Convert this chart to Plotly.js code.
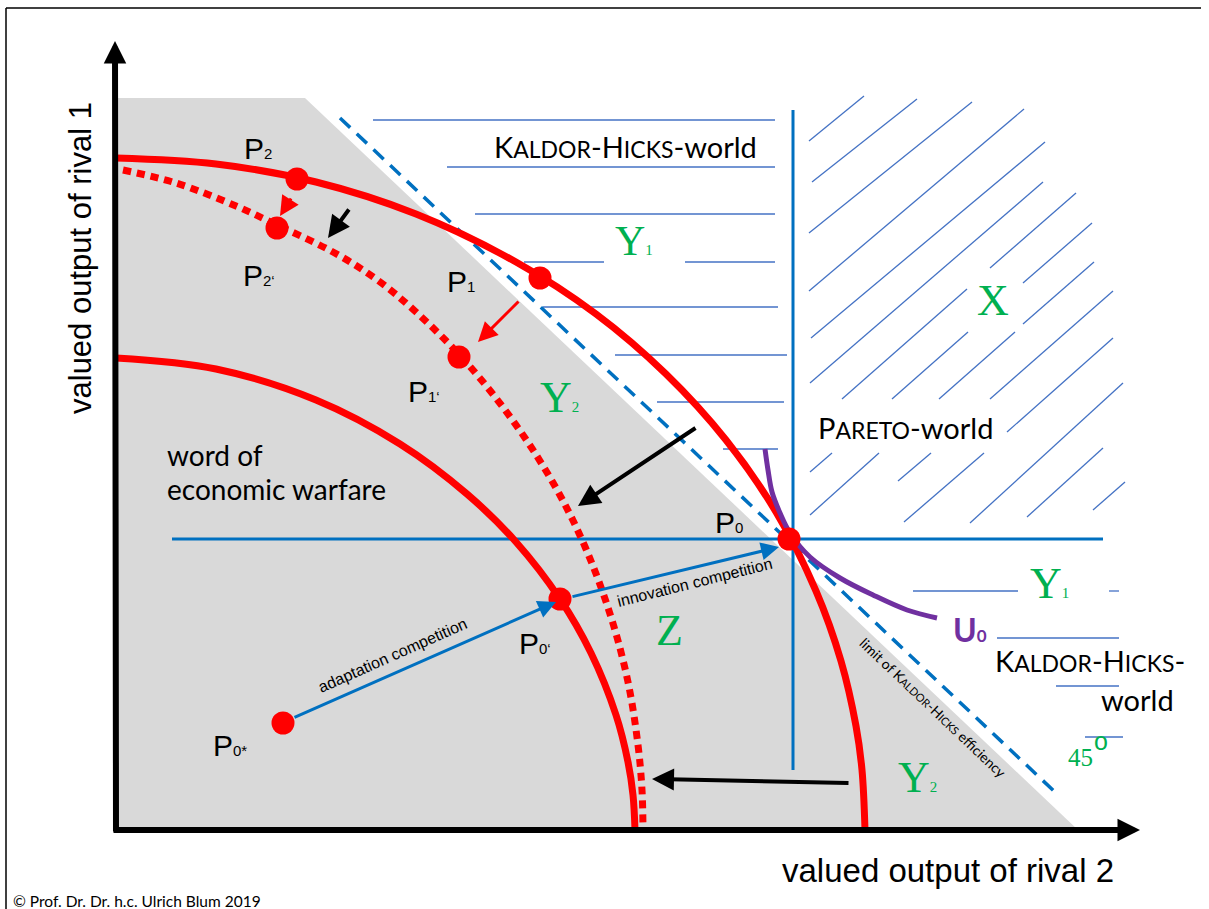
<!DOCTYPE html>
<html><head><meta charset="utf-8">
<script src="https://cdn.plot.ly/plotly-3.0.1.min.js"></script>
<style>html,body{margin:0;padding:0;background:#fff}#chart{width:1209px;height:909px}</style>
</head><body><div id="chart"></div>
<script>
// Coordinates: x = valued output of rival 2, y = valued output of rival 1 (origin at the axes' crossing)
const outerFrontierX = [0, 100, 200, 300, 400, 480, 550, 610, 660, 700, 725, 740, 746, 749];
const outerFrontierY = [672, 666, 648, 616, 568, 516, 456, 390, 318, 239, 169, 104, 60, 0];
const shiftedFrontierX = [7, 60, 120, 161, 217, 260, 300, 350, 400, 440, 470, 495, 512, 522, 526, 527];
const shiftedFrontierY = [660, 647, 624, 605, 578, 551, 518, 468, 405, 342, 281, 213, 148, 85, 40, 0];
const innerFrontierX = [0, 100, 200, 284, 351, 400, 444, 475, 500, 512, 517, 519];
const innerFrontierY = [472, 461, 430, 386, 336, 288, 231, 177, 115, 68, 35, 0];
const indifferenceX = [649, 652, 656, 664, 674, 694, 724, 757, 791, 821];
const indifferenceY = [381, 360, 338, 317, 297, 273, 252, 235, 220, 212];
const limitLineX = [224, 939];
const limitLineY = [712, 38];
const warfareRegionX = [0, 0, 189, 962, 0];
const warfareRegionY = [0, 732, 732, 0, 0];
const paretoHX = [56, 987], paretoHY = [291, 291];
const paretoVX = [677, 677], paretoVY = [60, 720];
// Kaldor-Hicks hatch (horizontal segments)
const khY  = [710, 663, 616, 568, 568, 523, 475, 428, 381, 239, 239, 192, 144, 93];
const khX0 = [257, 331, 359, 408, 569, 427, 499, 541, 607, 797, 993, 881, 940, 969];
const khX1 = [659, 659, 659, 488, 659, 662, 671, 668, 662, 902, 1003, 1003, 1003, 1007];
// Pareto hatch (diagonal segments)
const parX0 = [693, 696, 693, 693, 695, 694, 726, 874, 776, 907, 823, 907, 874, 891, 854, 694, 694, 782, 788, 911, 977];
const parY0 = [689, 648, 597, 539, 492, 447, 431, 562, 431, 547, 431, 506, 431, 398, 307, 358, 315, 349, 308, 313, 320];
const parX1 = [748, 801, 856, 908, 929, 927, 851, 960, 852, 976, 899, 978, 997, 997, 1007, 716, 763, 815, 868, 987, 1009];
const parY1 = [734, 731, 728, 721, 688, 648, 541, 637, 498, 607, 498, 568, 539, 492, 447, 377, 377, 377, 377, 382, 348];
// Points
const pointNames = ['P2', 'P2‘', 'P1', 'P1‘', 'P0', 'P0‘', 'P0*'];
const pointX = [181, 161, 424, 343, 673, 444, 167];
const pointY = [651, 602, 552, 473, 291, 231, 107];
// Arrows: tail -> head
const redArrowTail = [[176, 633], [404, 530]];
const redArrowHead = [[164, 614], [362, 488]];
const blackArrowTail = [[234, 622], [581, 403], [734, 47]];
const blackArrowHead = [[212, 592], [462, 324], [536, 51]];
const adaptationTail = [177, 112], adaptationHead = [440, 228];
const innovationTail = [455, 233], innovationHead = [663, 283];
const axisXEnd = [1024, 0], axisYEnd = [-1, 789];

function segs(x0, y0, x1, y1) {
  const xs = [], ys = [];
  for (let i = 0; i < x0.length; i++) { xs.push(x0[i], x1[i], null); ys.push(y0[i], y1[i], null); }
  return {xs, ys};
}
const kh = segs(khX0, khY, khX1, khY);
const par = segs(parX0, parY0, parX1, parY1);

const RED = '#FF0000', BLUE = '#0070C0', HATCH = '#4472C4', GREEN = '#00B050', PURPLE = '#7030A0';
const traces = [
  {x: warfareRegionX, y: warfareRegionY, mode: 'lines', fill: 'toself', fillcolor: '#D9D9D9', line: {width: 0}, hoverinfo: 'skip'},
  {x: kh.xs, y: kh.ys, mode: 'lines', line: {color: HATCH, width: 1.3}, connectgaps: false},
  {x: par.xs, y: par.ys, mode: 'lines', line: {color: HATCH, width: 1.3}, connectgaps: false},
  {x: paretoHX, y: paretoHY, mode: 'lines', line: {color: BLUE, width: 3}},
  {x: paretoVX, y: paretoVY, mode: 'lines', line: {color: BLUE, width: 3}},
  {x: limitLineX, y: limitLineY, mode: 'lines', line: {color: BLUE, width: 3.5, dash: '14px,9px'}},
  {x: innerFrontierX, y: innerFrontierY, mode: 'lines', line: {color: RED, width: 7, shape: 'spline'}},
  {x: shiftedFrontierX, y: shiftedFrontierY, mode: 'lines', line: {color: RED, width: 7, shape: 'spline', dash: '8px,6px'}},
  {x: outerFrontierX, y: outerFrontierY, mode: 'lines', line: {color: RED, width: 7, shape: 'spline'}},
  {x: indifferenceX, y: indifferenceY, mode: 'lines', line: {color: PURPLE, width: 5, shape: 'spline'}},
  {x: pointX, y: pointY, text: pointNames, mode: 'markers', marker: {color: RED, size: 23}}
];

const X = p => p - 116, Y = p => 830 - p;   // layout helper: picture position -> axis units
const ARIAL = 'Liberation Sans, Arial, sans-serif', CAL = 'Lato, Open Sans, sans-serif', TIMES = 'Liberation Serif, Times New Roman, serif';
const anns = [];
function txt(px, py, text, font, opts) {
  anns.push(Object.assign({x: X(px), y: Y(py), xref: 'x', yref: 'y', text: text, showarrow: false,
    xanchor: 'left', yanchor: 'middle', font: font}, opts || {}));
}
function arrow(t, h, color, width, size, head) {
  anns.push({x: h[0], y: h[1], ax: t[0], ay: t[1], xref: 'x', yref: 'y', axref: 'x', ayref: 'y', text: '',
    showarrow: true, arrowhead: head || 2, arrowsize: size, arrowwidth: width, arrowcolor: color, standoff: 0});
}
// axes
arrow([0, -3], axisYEnd, '#000', 6, 0.75);
arrow([-4, 0], axisXEnd, '#000', 6, 0.75);
redArrowTail.forEach((t, i) => arrow(t, redArrowHead[i], RED, 3, 1.3));
blackArrowTail.forEach((t, i) => arrow(t, blackArrowHead[i], '#000', 4, 1.1));
arrow(adaptationTail, adaptationHead, BLUE, 3, 1.2);
arrow(innovationTail, innovationHead, BLUE, 3, 1.2);

const pf = {family: ARIAL, size: 30, color: '#000'};
const sub = s => `<span style="font-size:15px">${s}</span>`;
txt(242, 148, 'P' + sub('2'), pf);
txt(241, 275, 'P' + sub('2‘'), pf);
txt(445, 281, 'P' + sub('1'), pf);
txt(406, 391, 'P' + sub('1‘'), pf);
txt(713, 522, 'P' + sub('0'), pf);
txt(517, 643, 'P' + sub('0‘'), pf);
txt(211, 745, 'P' + sub('0*'), pf);

const gf = {family: TIMES, size: 44, color: GREEN};
const gsub = s => `<span style="font-size:15px">${s}</span>`;
txt(613, 241, 'Y' + gsub('1'), {family: TIMES, size: 42, color: GREEN});
txt(993, 300, 'X', gf, {xanchor: 'center'});
txt(538, 397, 'Y' + gsub('2'), gf);
txt(669, 630, 'Z', gf, {xanchor: 'center'});
txt(1028, 583, 'Y' + gsub('1'), gf);
txt(896, 777, 'Y' + gsub('2'), gf);
txt(1066, 757, '45', {family: TIMES, size: 25, color: GREEN});
txt(1101, 741, 'o', {family: ARIAL, size: 25, color: GREEN}, {xanchor: 'center'});

const sc = s => `<span style="font-size:23px">${s}</span>`;
const cf = {family: CAL, size: 29, color: '#000'};
txt(492, 146, 'K' + sc('ALDOR') + '-H' + sc('ICKS') + '-world', cf);
txt(816, 427, 'P' + sc('ARETO') + '-world', cf);
txt(993, 660, 'K' + sc('ALDOR') + '-H' + sc('ICKS') + '-', cf);
txt(1176, 699, 'world', cf, {xanchor: 'right'});
txt(165, 455, 'word of', {family: CAL, size: 28, color: '#000'});
txt(165, 489, 'economic warfare', {family: CAL, size: 28, color: '#000'});
txt(951, 629, '<b>U<span style="font-size:17px">0</span></b>', {family: CAL, size: 32, color: PURPLE});

txt(694, 582, 'innovation competition', {family: ARIAL, size: 16, color: '#000'}, {xanchor: 'center', textangle: -14});
txt(392, 655, 'adaptation competition', {family: ARIAL, size: 16, color: '#000'}, {xanchor: 'center', textangle: -24});
txt(933, 707, 'limit of K<span style="font-size:11px">ALDOR</span>-H<span style="font-size:11px">ICKS</span> efficiency',
  {family: CAL, size: 14, color: '#000'}, {xanchor: 'center', textangle: 43.5});

txt(948, 870, 'valued output of rival 2', {family: ARIAL, size: 33, color: '#000'}, {xanchor: 'center'});
txt(80, 258, 'valued output of rival 1', {family: ARIAL, size: 31, color: '#000'}, {xanchor: 'center', textangle: -90});
txt(11, 901, '© Prof. Dr. Dr. h.c. Ulrich Blum 2019', {family: CAL, size: 15.5, color: '#000'});

const layout = {
  width: 1209, height: 909, margin: {l: 0, r: 0, t: 0, b: 0, pad: 0},
  paper_bgcolor: '#fff', plot_bgcolor: '#fff', showlegend: false, hovermode: false,
  xaxis: {range: [-116, 1093], visible: false, fixedrange: true},
  yaxis: {range: [-79, 830], visible: false, fixedrange: true},
  shapes: [
    {type: 'line', xref: 'paper', yref: 'paper', x0: 6/1209, x1: 6/1209, y0: 0, y1: 1 - 8/909, line: {color: '#000', width: 1.5}, layer: 'below'},
    {type: 'line', xref: 'paper', yref: 'paper', x0: 6/1209, x1: 1201/1209, y0: 1 - 8/909, y1: 1 - 8/909, line: {color: '#000', width: 1.5}, layer: 'below'}
  ],
  annotations: anns
};
Plotly.newPlot('chart', traces, layout, {staticPlot: true, displayModeBar: false});
</script></body></html>
